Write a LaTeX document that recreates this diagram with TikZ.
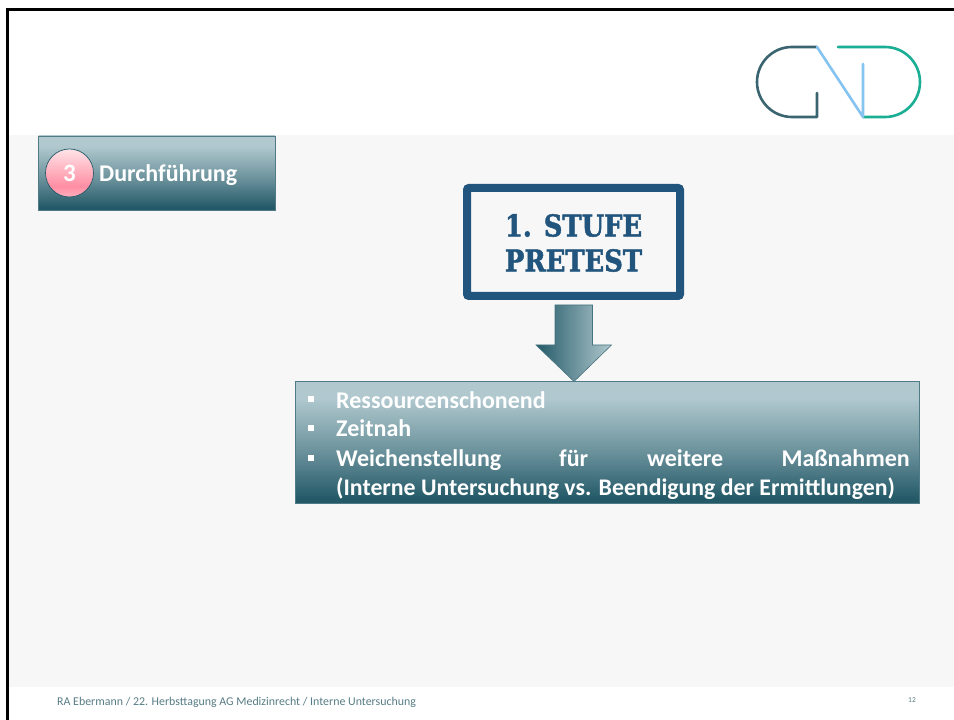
\documentclass[tikz,border=0pt]{standalone}
\usepackage{fontspec}
\setmainfont{Carlito}
\newfontfamily\slabfont[BoldFeatures={FakeBold=1.6,FakeStretch=.86}]{DejaVu Serif}
\definecolor{stufeblue}{HTML}{22557D}
\definecolor{tealdark}{HTML}{245A68}
\definecolor{teallight}{HTML}{B0C8CE}
\definecolor{logogreen}{HTML}{1AAE94}
\definecolor{logoblue}{HTML}{85C3F0}
\definecolor{logodark}{HTML}{3A6570}
\definecolor{pagegray}{HTML}{F7F7F7}
\definecolor{pinklow}{HTML}{FF8DA2}
\definecolor{pinkedge}{HTML}{FFB0BE}
\definecolor{pinktop}{HTML}{FFE4E8}
\pgfdeclareverticalshading{tealband}{100bp}{color(0bp)=(tealdark); color(27bp)=(tealdark); color(46bp)=(teallight!50!tealdark); color(68bp)=(teallight); color(100bp)=(teallight)}
\pgfdeclarehorizontalshading{tealarrow}{100bp}{color(0bp)=(tealdark); color(25bp)=(tealdark); color(75bp)=(teallight); color(100bp)=(teallight)}
\pgfdeclareverticalshading{pinkball}{100bp}{color(0bp)=(pinkedge); color(25bp)=(pinkedge); color(36bp)=(pinklow); color(75bp)=(pinktop); color(100bp)=(pinktop)}
\tikzset{
	bandtext/.style={text=white,font=\bfseries\fontsize{24}{28}\selectfont,inner sep=0pt,anchor=base west},
	logoline/.style={line width=2.6pt,line cap=round,line join=round},
}
\begin{document}
\begin{tikzpicture}[x=1pt,y=1pt]
		\useasboundingbox (0,0) rectangle (954,720);
		\fill[white] (0,0) rectangle (954,720);
		\fill[pagegray] (8,33) rectangle (954,585);
		% frame
		\draw[black,line width=3pt] (7.5,0) -- (7.5,710) -- (954,710);
		% logo
		\draw[logoline,logodark] (817,673) -- (792,673) arc[start angle=90,end angle=270,radius=35] -- (817,603) -- (817,627);
		\draw[logoline,logogreen] (838,673) -- (885,673) arc[start angle=90,end angle=-90,radius=35] -- (863,603);
		\draw[logoline,logoblue] (817,673) -- (863,603) -- (863,656);
		% step label
		\path[shade,shading=tealband,draw=tealdark!80,line width=.6pt] (38.5,510) rectangle (275,584);
		\node[circle,draw=tealdark,line width=.7pt,minimum size=48pt,inner sep=0pt,shade,shading=pinkball,text=white,font=\bfseries\fontsize{25}{28}\selectfont] (nummer) at (69.5,547) {3};
		\node[bandtext] (durchfuehrung) at (99,538) {Durchführung};
		% stufe box
		\draw[stufeblue,line width=8pt,rounded corners=2pt,fill=pagegray] (467,424) rectangle (680,532);
		\node[text=stufeblue,font=\slabfont\bfseries\fontsize{30}{35}\selectfont,align=center] (stufe) at (573.5,477) {1. STUFE\\PRETEST};
		% arrow
		\path[shade,shading=tealarrow,draw=tealdark!85,line width=.6pt] (555,415) -- (592.5,415) -- (592.5,375) -- (611.5,375) -- (574,338.5) -- (536,375) -- (555,375) -- cycle;
		% list box
		\path[shade,shading=tealband,draw=tealdark!80,line width=.6pt] (295.5,217) rectangle (919.5,338.5);
		\foreach \y/\t in {311.5/Ressourcenschonend,283/Zeitnah,253/Weichenstellung} {
			\fill[white] (308,\y+6) rectangle (314,\y+12);
			\node[bandtext] at (336,\y) {\t};
		}
		\node[bandtext] (fuer) at (559,253) {für};
		\node[bandtext] (weitere) at (647,253) {weitere};
		\node[bandtext,anchor=base east] (massnahmen) at (910,253) {Maßnahmen};
		\node[bandtext,font=\bfseries\fontsize{23.8}{28}\selectfont] (klammer) at (336,224.5) {(Interne Untersuchung vs. Beendigung der Ermittlungen)};
		% footer
		\node[text=logodark!85,inner sep=0pt,anchor=base west,font=\fontsize{11.9}{14}\selectfont] (fuss) at (57,14) {RA Ebermann / 22. Herbsttagung AG Medizinrecht / Interne Untersuchung};
		\node[text=logodark!85,inner sep=0pt,font=\fontsize{7.5}{9}\selectfont] (seite) at (912,20) {12};
		\end{tikzpicture}
\end{document}
